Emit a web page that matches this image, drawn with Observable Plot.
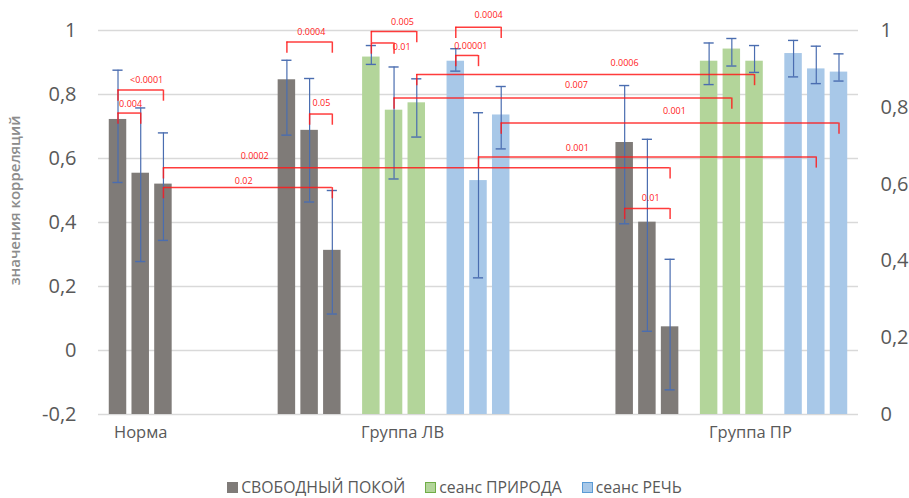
<!DOCTYPE html>
<html><head><meta charset="utf-8">
<script src="https://cdn.jsdelivr.net/npm/d3@7"></script>
<script src="https://cdn.jsdelivr.net/npm/@observablehq/plot@0.6"></script>
<style>
body{margin:0;background:#fff;font-family:"Open Sans",sans-serif;}
#legend{display:flex;justify-content:center;align-items:center;margin-top:18px;height:18px;line-height:18px;font-size:15.8px;color:#595959;}
#legend .item{display:flex;align-items:center;margin:0 10px;}
#legend .sw{width:11px;height:11px;margin-right:3px;box-sizing:border-box;}
</style>
</head><body>
<div id="chart"></div>
<div id="legend"></div>
<script>
// ---- data ----
const groups = ["Норма", "Группа ЛВ", "Группа ПР"];
const groupTickAt = [0.5, 3.6, 7.72];            // x-axis label positions (slot units)
const sessions = ["СВОБОДНЫЙ ПОКОЙ", "сеанс ПРИРОДА", "сеанс РЕЧЬ"];
const sessionColors = ["#7f7b78", "#b3d59a", "#a8c8e8"];
const sessionBorders = ["#7f7b78", "#70ad47", "#5b9bd5"];
const leftTicks = [-0.2, 0, 0.2, 0.4, 0.6, 0.8, 1];
const rightTicks = [0, 0.2, 0.4, 0.6, 0.8, 1];

const normaFree   = [0.722, 0.554, 0.520];
const normaFreeLo = [0.525, 0.278, 0.344];
const normaFreeHi = [0.876, 0.758, 0.680];

const lvFree     = [0.846, 0.688, 0.313];
const lvFreeLo   = [0.673, 0.464, 0.114];
const lvFreeHi   = [0.907, 0.850, 0.500];
const lvNature   = [0.917, 0.751, 0.774];
const lvNatureLo = [0.894, 0.536, 0.667];
const lvNatureHi = [0.953, 0.886, 0.849];
const lvSpeech   = [0.904, 0.531, 0.736];
const lvSpeechLo = [0.873, 0.227, 0.630];
const lvSpeechHi = [0.943, 0.743, 0.825];

const prFree     = [0.650, 0.401, 0.074];
const prFreeLo   = [0.396, 0.060, -0.123];
const prFreeHi   = [0.828, 0.660, 0.285];
const prNature   = [0.904, 0.942, 0.904];
const prNatureLo = [0.831, 0.889, 0.869];
const prNatureHi = [0.961, 0.975, 0.953];
const prSpeech   = [0.928, 0.880, 0.870];
const prSpeechLo = [0.855, 0.834, 0.842];
const prSpeechHi = [0.969, 0.951, 0.927];

// slot = index of the category column (9 columns, 1 and 5 are empty gaps)
const clusters = [
  {group: groups[0], session: sessions[0], slot: 0, v: normaFree, lo: normaFreeLo, hi: normaFreeHi},
  {group: groups[1], session: sessions[0], slot: 2, v: lvFree,    lo: lvFreeLo,    hi: lvFreeHi},
  {group: groups[1], session: sessions[1], slot: 3, v: lvNature,  lo: lvNatureLo,  hi: lvNatureHi},
  {group: groups[1], session: sessions[2], slot: 4, v: lvSpeech,  lo: lvSpeechLo,  hi: lvSpeechHi},
  {group: groups[2], session: sessions[0], slot: 6, v: prFree,    lo: prFreeLo,    hi: prFreeHi},
  {group: groups[2], session: sessions[1], slot: 7, v: prNature,  lo: prNatureLo,  hi: prNatureHi},
  {group: groups[2], session: sessions[2], slot: 8, v: prSpeech,  lo: prSpeechLo,  hi: prSpeechHi}
];

// significance brackets: from bar [slot, k] to bar [slot, k]
const brackets = [
  {p: "<0.0001", a: [0,0], b: [0,2], y: 0.814,  lx: 0.57, ly: 0.846},
  {p: "0.004",   a: [0,0], b: [0,1], y: 0.742,  lx: 0.38, ly: 0.769},
  {p: "0.0004",  a: [2,0], b: [2,2], y: 0.964,  lx: 2.52, ly: 0.995},
  {p: "0.05",    a: [2,1], b: [2,2], y: 0.739,  lx: 2.64, ly: 0.774},
  {p: "0.0002",  a: [0,2], b: [6,2], y: 0.571,  lx: 1.85, ly: 0.609},
  {p: "0.02",    a: [0,2], b: [2,2], y: 0.509,  lx: 1.72, ly: 0.529},
  {p: "0.005",   a: [3,0], b: [3,2], y: 0.997,  lx: 3.60, ly: 1.026},
  {p: "0.01",    a: [3,0], b: [3,1], y: 0.961,  lx: 3.59, ly: 0.948},
  {p: "0.0004",  a: [4,0], b: [4,2], y: 1.010,  lx: 4.62, ly: 1.047},
  {p: "0.00001", a: [4,0], b: [4,1], y: 0.922,  lx: 4.41, ly: 0.951},
  {p: "0.0006",  a: [3,2], b: [7,2], y: 0.8625, lx: 6.23, ly: 0.899},
  {p: "0.007",   a: [3,1], b: [7,1], y: 0.789,  lx: 5.66, ly: 0.829},
  {p: "0.001",   a: [4,2], b: [8,2], y: 0.711,  lx: 6.82, ly: 0.748},
  {p: "0.001",   a: [4,1], b: [8,1], y: 0.605,  lx: 5.67, ly: 0.632},
  {p: "0.01",    a: [6,0], b: [6,2], y: 0.444,  lx: 6.54, ly: 0.477}
];

// ---- layout helpers (in slot units) ----
const SUB = 0.269, BW = 0.207, CAP = 0.06, TICK = 0.035;
const center = (slot, k) => slot + 0.5 + (k - 1) * SUB;

const bars = clusters.flatMap(c => c.v.map((v, k) => ({
  group: c.group, session: c.session, slot: c.slot, k, value: v, lo: c.lo[k], hi: c.hi[k],
  cx: center(c.slot, k)
})));
const caps = bars.flatMap(d => [{cx: d.cx, y: d.lo}, {cx: d.cx, y: d.hi}]);
const bracketTicks = brackets.flatMap(b => [
  {x: center(b.a[0], b.a[1]), y: b.y},
  {x: center(b.b[0], b.b[1]), y: b.y}
]);

const loc = d3.formatLocale({decimal: ",", thousands: " ", grouping: [3], currency: ["", ""], minus: "-"});
const fmt = loc.format("~g");
const toLeft = r => -0.2 + 1.2 * r;
const fromLeft = v => Math.round(((v + 0.2) / 1.2) * 10) / 10;

const red = "#ff1a1a";
const chart = Plot.plot({
  width: 909,
  height: 460,
  marginLeft: 98,
  marginRight: 51,
  marginTop: 30,
  marginBottom: 46,
  style: {fontFamily: "Open Sans, sans-serif", background: "#fff"},
  x: {type: "linear", domain: [0, 9], axis: null},
  y: {domain: [-0.2, 1], axis: null},
  color: {domain: sessions, range: sessionColors},
  marks: [
    Plot.gridY(leftTicks, {stroke: "#d9d9d9", strokeOpacity: 1, strokeWidth: 1.5}),
    Plot.rect(bars, {x1: d => d.cx - BW / 2, x2: d => d.cx + BW / 2, y1: -0.2, y2: "value", fill: "session"}),
    Plot.ruleX(bars, {x: "cx", y1: "lo", y2: "hi", stroke: "#4a6db0", strokeWidth: 1.2}),
    Plot.ruleY(caps, {x1: d => d.cx - CAP, x2: d => d.cx + CAP, y: "y", stroke: "#4a6db0", strokeWidth: 1.4}),
    Plot.ruleY(brackets, {x1: d => center(d.a[0], d.a[1]), x2: d => center(d.b[0], d.b[1]), y: "y", stroke: red, strokeWidth: 1.5, strokeOpacity: 0.85}),
    Plot.ruleX(bracketTicks, {x: "x", y1: "y", y2: d => d.y - TICK, stroke: red, strokeWidth: 1.5, strokeOpacity: 0.85}),
    Plot.text(brackets, {x: "lx", y: "ly", text: "p", fill: red, fontSize: 9}),
    Plot.axisY({ticks: leftTicks, tickFormat: fmt, tickSize: 0, tickPadding: 22, fontSize: 20, color: "#595959", label: null}),
    Plot.axisY({anchor: "right", ticks: rightTicks.map(toLeft), tickFormat: v => fmt(fromLeft(v)), tickSize: 0, tickPadding: 22, fontSize: 20, color: "#595959", label: null}),
    Plot.axisX({ticks: groupTickAt, tickFormat: d => groups[groupTickAt.indexOf(d)], tickSize: 0, tickPadding: 12, fontSize: 16.5, color: "#595959", label: null}),
    Plot.text(["значения корреляций"], {frameAnchor: "left", textAnchor: "middle", rotate: -90, dx: -83, dy: -22, fontSize: 15, fontWeight: 600, fill: "#8c8c8c"})
  ]
});
document.getElementById("chart").appendChild(chart);

const legend = document.getElementById("legend");
sessions.forEach((s, i) => {
  const it = document.createElement("div");
  it.className = "item";
  const sw = document.createElement("span");
  sw.className = "sw";
  sw.style.background = sessionColors[i];
  sw.style.border = "1.5px solid " + sessionBorders[i];
  const tx = document.createElement("span");
  tx.textContent = s;
  it.appendChild(sw); it.appendChild(tx);
  legend.appendChild(it);
});
</script>
</body></html>
